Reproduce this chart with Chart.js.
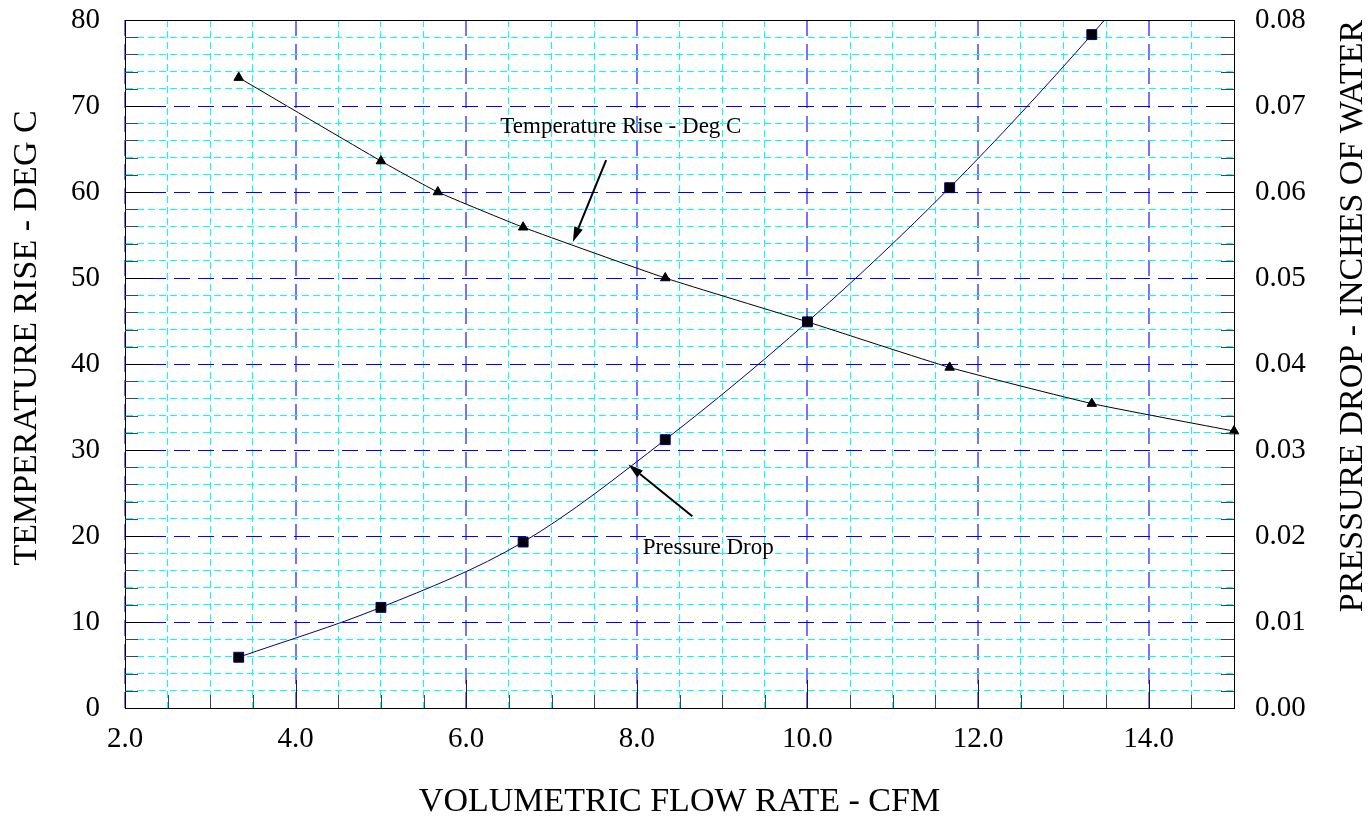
<!DOCTYPE html>
<html>
<head>
<meta charset="utf-8">
<title>Temperature Rise / Pressure Drop vs Flow Rate</title>
<script src="https://cdn.jsdelivr.net/npm/chart.js@4.4.1/dist/chart.umd.min.js"></script>
<style>
  html, body { margin: 0; padding: 0; background: #fff; }
  #wrap { width: 1372px; height: 822px; }
</style>
</head>
<body>
<div id="wrap"><canvas id="flowChart" width="1372" height="822"></canvas></div>
<script>
// chart data
const tempFlow = [3.333, 5.0, 5.667, 6.667, 8.333, 10.0, 11.667, 13.333, 15.0];
const tempRise = [73.3, 63.6, 60.0, 55.9, 50.0, 44.9, 39.6, 35.4, 32.2];
const pressFlow = [3.333, 5.0, 6.667, 8.333, 10.0, 11.667, 13.333, 15.0];
const pressDrop = [0.0059, 0.0117, 0.0193, 0.0312, 0.0449, 0.0605, 0.0783, 0.098];

const xTickLabels = ['2.0', '4.0', '6.0', '8.0', '10.0', '12.0', '14.0'];
const yTickLabels = ['0', '10', '20', '30', '40', '50', '60', '70', '80'];
const y2TickLabels = ['0.00', '0.01', '0.02', '0.03', '0.04', '0.05', '0.06', '0.07', '0.08'];

const SERIF = "'Liberation Serif', 'Times New Roman', serif";
const BLUE = '#0000ff';
const CYAN = '#00ffff';

// text callouts in data units (x, left y axis)
const callouts = [
    { text: 'Temperature Rise - Deg C', x: 6.40, y: 66.9, from: [7.64, 63.7], to: [7.25, 54.2] },
    { text: 'Pressure Drop', x: 8.07, y: 17.9, from: [8.65, 22.3], to: [7.90, 28.3] }
];

function steps(from, to, step) {
    const out = [];
    const n = Math.round((to - from) / step);
    for (let i = 0; i <= n; i++) out.push(+(from + i * step).toFixed(6));
    return out;
}
function isMajorX(v) { return Math.abs(v % 2) < 1e-6 || Math.abs(v % 2 - 2) < 1e-6; }
function isMajorY(v) { return Math.abs(v % 10) < 1e-6 || Math.abs(v % 10 - 10) < 1e-6; }

// keep the tick-label overhang from pushing the plot down
function noEdgePadding(s) {
    s.paddingTop = 0;
    s.paddingBottom = 0;
}

// inner tick marks, top frame, side titles and callouts
const decorations = {
    id: 'decorations',
    afterDraw(chart) {
        const ctx = chart.ctx;
        const a = chart.chartArea;
        const x = chart.scales.x;
        const y = chart.scales.y;
        const line = (x1, y1, x2, y2) => {
            ctx.beginPath();
            ctx.moveTo(x1, y1);
            ctx.lineTo(x2, y2);
            ctx.stroke();
        };
        ctx.save();
        ctx.lineWidth = 1;
        ctx.setLineDash([]);

        y.ticks.forEach(t => {
            if (t.value <= 0 || t.value >= 80) return;
            const py = Math.round(y.getPixelForValue(t.value)) + 0.5;
            const len = isMajorY(t.value) ? 28 : 13;
            ctx.strokeStyle = isMajorY(t.value) ? '#000' : '#3a4a4a';
            line(a.left, py, a.left + len, py);
            line(a.right - len, py, a.right, py);
        });
        x.ticks.forEach(t => {
            if (t.value <= 2 || t.value >= 15) return;
            const px = Math.round(x.getPixelForValue(t.value)) + 0.5;
            const len = isMajorX(t.value) ? 28 : 13;
            ctx.strokeStyle = isMajorX(t.value) ? '#1a1a40' : '#3a4a4a';
            line(px, a.bottom - len, px, a.bottom);
        });

        ctx.strokeStyle = '#000';
        line(a.left, Math.round(a.top) + 0.5, a.right, Math.round(a.top) + 0.5);

        // side titles, both read bottom to top
        ctx.fillStyle = '#000';
        ctx.font = '34px ' + SERIF;
        ctx.textAlign = 'center';
        ctx.textBaseline = 'middle';
        [['TEMPERATURE RISE - DEG C', 27, 338], ['PRESSURE DROP - INCHES OF WATER', 1353, 316]].forEach(s => {
            ctx.save();
            ctx.translate(s[1], s[2]);
            ctx.rotate(-Math.PI / 2);
            ctx.fillText(s[0], 0, 0);
            ctx.restore();
        });

        // callouts with arrows
        ctx.font = '23px ' + SERIF;
        ctx.textAlign = 'left';
        ctx.textBaseline = 'alphabetic';
        ctx.lineWidth = 2;
        callouts.forEach(c => {
            ctx.fillText(c.text, x.getPixelForValue(c.x), y.getPixelForValue(c.y));
            const x1 = x.getPixelForValue(c.from[0]), y1 = y.getPixelForValue(c.from[1]);
            const x2 = x.getPixelForValue(c.to[0]), y2 = y.getPixelForValue(c.to[1]);
            const ang = Math.atan2(y2 - y1, x2 - x1);
            const head = 15, half = 4.5;
            const bx = x2 - head * Math.cos(ang), by = y2 - head * Math.sin(ang);
            line(x1, y1, bx, by);
            ctx.beginPath();
            ctx.moveTo(x2, y2);
            ctx.lineTo(bx + half * Math.sin(ang), by - half * Math.cos(ang));
            ctx.lineTo(bx - half * Math.sin(ang), by + half * Math.cos(ang));
            ctx.closePath();
            ctx.fill();
        });
        ctx.restore();
    }
};

document.addEventListener('DOMContentLoaded', function() {
    const ctx = document.getElementById('flowChart').getContext('2d');

    new Chart(ctx, {
        type: 'line',
        data: {
            datasets: [{
                label: 'Temperature Rise - Deg C',
                data: tempFlow.map((f, i) => ({ x: f, y: tempRise[i] })),
                yAxisID: 'y',
                borderColor: '#000',
                borderWidth: 1,
                pointStyle: 'triangle',
                pointRadius: 5.5,
                pointBackgroundColor: '#000',
                pointBorderColor: '#000',
                pointBorderWidth: 1,
                tension: 0.15,
                clip: false
            }, {
                label: 'Pressure Drop',
                data: pressFlow.map((f, i) => ({ x: f, y: pressDrop[i] })),
                yAxisID: 'y2',
                borderColor: '#000080',
                borderWidth: 1,
                pointStyle: 'rect',
                pointRadius: 7,
                pointBackgroundColor: '#000',
                pointBorderColor: '#000080',
                pointBorderWidth: 1,
                cubicInterpolationMode: 'monotone'
            }]
        },
        options: {
            responsive: false,
            maintainAspectRatio: false,
            animation: false,
            layout: { padding: { top: 20, left: 0, right: 0, bottom: 0 } },
            plugins: {
                legend: { display: false },
                tooltip: { enabled: false }
            },
            scales: {
                x: {
                    type: 'linear',
                    position: 'bottom',
                    min: 2,
                    max: 15,
                    afterFit: s => { s.height = 114; },
                    afterBuildTicks: s => { s.ticks = steps(2, 15, 0.5).map(v => ({ value: v })); },
                    ticks: {
                        autoSkip: false,
                        maxRotation: 0,
                        padding: 14,
                        color: '#000',
                        font: { family: SERIF, size: 29 },
                        callback: v => isMajorX(v) ? xTickLabels[Math.round((v - 2) / 2)] : ''
                    },
                    grid: {
                        drawTicks: false,
                        color: c => (c.tick && isMajorX(c.tick.value)) ? '#7373ff' : CYAN,
                        lineWidth: c => (c.tick && isMajorX(c.tick.value)) ? 2 : 1
                    },
                    border: {
                        color: '#000',
                        width: 1,
                        dash: c => c.tick ? (isMajorX(c.tick.value) ? [16, 8] : [7, 4]) : []
                    },
                    title: {
                        display: true,
                        text: 'VOLUMETRIC FLOW RATE - CFM',
                        color: '#000',
                        font: { family: SERIF, size: 34 },
                        padding: { top: 0, bottom: 0 }
                    }
                },
                y: {
                    type: 'linear',
                    position: 'left',
                    min: 0,
                    max: 80,
                    afterFit: s => { s.width = 125; noEdgePadding(s); },
                    afterBuildTicks: s => { s.ticks = steps(0, 80, 2).map(v => ({ value: v })); },
                    ticks: {
                        autoSkip: false,
                        padding: 25,
                        color: '#000',
                        font: { family: SERIF, size: 29 },
                        callback: v => isMajorY(v) ? yTickLabels[Math.round(v / 10)] : ''
                    },
                    grid: {
                        drawTicks: false,
                        color: c => (c.tick && isMajorY(c.tick.value)) ? BLUE : CYAN,
                        lineWidth: 1
                    },
                    border: {
                        color: '#000',
                        width: 1,
                        dash: c => c.tick ? (isMajorY(c.tick.value) ? [16, 8] : [7, 4]) : []
                    }
                },
                y2: {
                    type: 'linear',
                    position: 'right',
                    min: 0,
                    max: 0.08,
                    afterFit: s => { s.width = 138; noEdgePadding(s); },
                    afterBuildTicks: s => { s.ticks = steps(0, 0.08, 0.01).map(v => ({ value: v })); },
                    ticks: {
                        autoSkip: false,
                        padding: 21,
                        color: '#000',
                        font: { family: SERIF, size: 29 },
                        callback: (v, i) => y2TickLabels[i]
                    },
                    grid: { display: false, drawOnChartArea: false, drawTicks: false },
                    border: { display: true, color: '#000', width: 1 }
                }
            }
        },
        plugins: [decorations]
    });
});
</script>
</body>
</html>
